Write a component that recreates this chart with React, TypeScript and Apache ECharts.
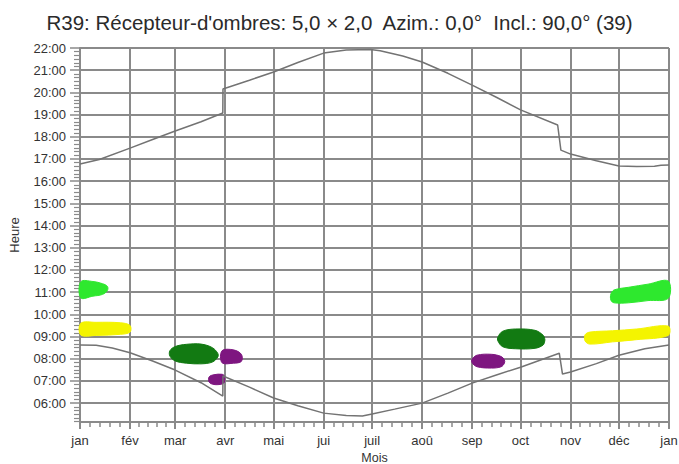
import React, { useEffect, useRef } from "react";
import * as echarts from "echarts";

const TITLE = "R39: Récepteur-d'ombres: 5,0 × 2,0  Azim.: 0,0°  Incl.: 90,0° (39)";

const monthStarts = [0, 31, 59, 90, 120, 151, 181, 212, 243, 273, 304, 334, 365];
const monthLabels = ["jan", "fév", "mar", "avr", "mai", "jui", "juil", "aoû", "sep", "oct", "nov", "déc", "jan"];
const hourTicks = [6, 7, 8, 9, 10, 11, 12, 13, 14, 15, 16, 17, 18, 19, 20, 21, 22];

// sunset curve [day, hour]
const sunset: number[][] = [
  [0, 16.77], [12, 16.98], [31, 17.49], [45, 17.88], [59, 18.26], [75, 18.68], [88.5, 19.07],
  [88.6, 20.15], [105, 20.55], [120, 20.92], [135, 21.35], [151, 21.77], [165, 21.91],
  [180, 21.93], [186, 21.88], [200, 21.64], [212, 21.37], [228, 20.86], [243, 20.33],
  [258, 19.78], [273, 19.21], [296, 18.53], [298, 17.4], [304, 17.22], [320, 16.92],
  [334, 16.68], [345, 16.66], [356, 16.67], [360, 16.72], [365, 16.73],
];

// sunrise curve [day, hour]
const sunrise: number[][] = [
  [0, 8.62], [10, 8.61], [20, 8.48], [31, 8.27], [45, 7.9], [59, 7.49], [75, 6.92], [88.5, 6.32],
  [88.6, 7.22], [105, 6.72], [120, 6.23], [135, 5.88], [151, 5.55], [165, 5.44], [175, 5.42],
  [181, 5.51], [195, 5.73], [212, 6.0], [228, 6.45], [243, 6.9], [258, 7.27], [273, 7.62],
  [297, 8.25], [299, 7.31], [304, 7.4], [320, 7.78], [334, 8.16], [350, 8.45], [365, 8.62],
];

// shadow blobs: [day, lowHour, highHour]
const lightGreenJan: number[][] = [[0.5, 10.74, 11.47], [8, 10.82, 11.48], [14, 10.9, 11.38], [17, 11.08, 11.26]];
const yellowJan: number[][] = [[0.5, 9.07, 9.6], [10, 9.05, 9.64], [25, 9.1, 9.62], [31, 9.2, 9.5]];
const darkGreenMar: number[][] = [[55.7, 8.12, 8.36], [59, 7.9, 8.55], [66, 7.8, 8.65], [75, 7.77, 8.66], [82, 7.85, 8.5], [85.4, 8.08, 8.24]];
const purpleApr: number[][] = [[88, 7.82, 8.36], [95, 7.8, 8.4], [100, 7.88, 8.2]];
const purpleMar: number[][] = [[80, 6.95, 7.18], [83, 6.84, 7.28], [88, 6.86, 7.3], [89.5, 6.95, 7.22]];
const purpleSep: number[][] = [[243, 7.82, 7.98], [246, 7.64, 8.16], [255, 7.58, 8.2], [261, 7.64, 8.1], [263, 7.8, 7.95]];
const darkGreenOct: number[][] = [[259, 8.8, 8.98], [262, 8.54, 9.24], [270, 8.45, 9.34], [282, 8.47, 9.28], [287, 8.62, 9.06], [288, 8.8, 8.9]];
const yellowNov: number[][] = [[313, 8.8, 9.08], [316, 8.66, 9.2], [330, 8.76, 9.26], [345, 8.86, 9.34], [364.5, 9.05, 9.47]];
const lightGreenDec: number[][] = [[329, 10.64, 10.92], [331, 10.52, 11.1], [340, 10.52, 11.22], [352, 10.62, 11.36], [364.5, 10.72, 11.5]];

const blobs = [
  { data: lightGreenJan, color: "#2ee82e" },
  { data: yellowJan, color: "#f4f400" },
  { data: darkGreenMar, color: "#127a12" },
  { data: purpleApr, color: "#7e1680" },
  { data: purpleMar, color: "#7e1680" },
  { data: purpleSep, color: "#7e1680" },
  { data: darkGreenOct, color: "#127a12" },
  { data: yellowNov, color: "#f4f400" },
  { data: lightGreenDec, color: "#2ee82e" },
];

const FONT = "Liberation Sans, Arial, sans-serif";
const GRID_COLOR = "#8a8a8a";

function minorMonthTicks(): number[] {
  const out: number[] = [];
  for (let i = 0; i < monthStarts.length - 1; i++) {
    const a = monthStarts[i];
    const b = monthStarts[i + 1];
    for (let k = 1; k < 5; k++) out.push(a + ((b - a) * k) / 5);
  }
  return out;
}

function minorHourTicks(): number[] {
  const out: number[] = [];
  for (let h = 5; h < 22; h++) {
    for (let k = 1; k < 6; k++) {
      const v = h + k / 6;
      if (v >= 5.15) out.push(v);
    }
  }
  return out;
}

export default function App() {
  const ref = useRef<HTMLDivElement>(null);
  useEffect(() => {
    document.body.style.margin = "0";
    if (!ref.current) return;
    const chart = echarts.init(ref.current, undefined, { renderer: "svg" });

    const blobSeries = blobs.map((b) => ({
      type: "custom",
      xAxisIndex: 0,
      yAxisIndex: 0,
      data: b.data.map((p) => [p[0], p[2]]),
      z: 3,
      silent: true,
      renderItem: (params: any, api: any) => {
        if (params.dataIndex !== 0) return null;
        const top = b.data.map((p) => api.coord([p[0], p[2]]));
        const bottom = b.data.map((p) => api.coord([p[0], p[1]])).reverse();
        return {
          type: "polygon",
          shape: { points: top.concat(bottom), smooth: 0.35 },
          style: { fill: b.color, stroke: b.color, lineWidth: 1 },
        };
      },
    }));

    const lineStyle = { color: "#737373", width: 1.5 };

    chart.setOption({
      animation: false,
      title: {
        text: TITLE,
        left: "center",
        top: 7,
        textStyle: { fontFamily: FONT, fontSize: 20.5, fontWeight: "normal", color: "#2a2a2a" },
      },
      grid: { left: 80, right: 10, top: 48, bottom: 42, containLabel: false, outerBoundsMode: "none" },
      xAxis: [
        {
          type: "value",
          min: 0,
          max: 365,
          name: "Mois",
          nameLocation: "middle",
          nameGap: 29,
          nameTextStyle: { fontFamily: FONT, fontSize: 12.5, color: "#333" },
          axisLine: { show: true, lineStyle: { color: GRID_COLOR, width: 2 } },
          axisTick: { show: true, customValues: monthStarts, length: 7, lineStyle: { color: GRID_COLOR, width: 2 } },
          axisLabel: {
            customValues: monthStarts,
            margin: 12,
            fontFamily: FONT,
            fontSize: 13,
            color: "#333",
            formatter: (v: number) => {
              const i = monthStarts.indexOf(Math.round(v));
              return i >= 0 ? monthLabels[i] : "";
            },
          },
          splitLine: { show: true, lineStyle: { color: GRID_COLOR, width: 2 } },
        },
        {
          type: "value",
          min: 0,
          max: 365,
          position: "bottom",
          axisLine: { show: false },
          axisTick: { show: true, customValues: minorMonthTicks(), length: 5, lineStyle: { color: GRID_COLOR, width: 1.5 } },
          axisLabel: { show: false },
          splitLine: { show: false },
        },
      ],
      yAxis: [
        {
          type: "value",
          min: 5.15,
          max: 22,
          name: "Heure",
          nameLocation: "middle",
          nameGap: 59,
          nameRotate: 90,
          nameTextStyle: { fontFamily: FONT, fontSize: 13, color: "#333" },
          axisLine: { show: true, lineStyle: { color: GRID_COLOR, width: 2 } },
          axisTick: { show: true, customValues: hourTicks, length: 10, lineStyle: { color: GRID_COLOR, width: 1.5 } },
          axisLabel: {
            customValues: hourTicks,
            margin: 14,
            fontFamily: FONT,
            fontSize: 13,
            color: "#333",
            formatter: (v: number) => {
              const h = Math.round(v);
              return (h < 10 ? "0" : "") + h + ":00";
            },
          },
          splitLine: { show: true, lineStyle: { color: GRID_COLOR, width: 2 } },
        },
        {
          type: "value",
          min: 5.15,
          max: 22,
          position: "left",
          axisLine: { show: false },
          axisTick: { show: true, customValues: minorHourTicks(), length: 6, lineStyle: { color: GRID_COLOR, width: 1.2 } },
          axisLabel: { show: false },
          splitLine: { show: false },
        },
      ],
      series: [
        ...blobSeries,
        {
          type: "line",
          data: sunset,
          showSymbol: false,
          lineStyle,
          z: 4,
          silent: true,
        },
        {
          type: "line",
          data: sunrise,
          showSymbol: false,
          lineStyle,
          z: 4,
          silent: true,
        },
      ],
    });
    return () => chart.dispose();
  }, []);
  return <div ref={ref} style={{ width: 679, height: 464 }} />;
}
